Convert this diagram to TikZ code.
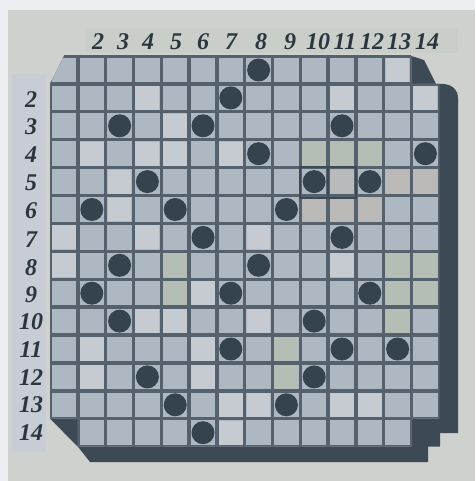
\documentclass[tikz,border=0pt]{standalone}
\usepackage{fontspec}
\newfontfamily\labfont{Liberation Serif}
\usetikzlibrary{calc}
\definecolor{bgc}{HTML}{ECEEF2}
\definecolor{panel}{HTML}{CED1CE}
\definecolor{colstrip}{HTML}{C9CEC8}
\definecolor{rowstrip}{HTML}{C8CCD4}
\definecolor{shadowc}{HTML}{3D4A55}
\definecolor{cellc}{HTML}{AEB8C3}
\definecolor{lightc}{HTML}{C6CBD2}
\definecolor{greenc}{HTML}{B5BEB5}
\definecolor{brownc}{HTML}{BBB9B8}
\definecolor{greyc}{HTML}{B9BABC}
\definecolor{linec}{HTML}{55616D}
\definecolor{dotc}{HTML}{34434E}
\definecolor{labc}{HTML}{2B3640}
\begin{document}
\begin{tikzpicture}[x=1pt,y=-1pt,
  dot/.style={circle,fill=dotc,minimum size=23pt,inner sep=0pt},
  lab/.style={font=\labfont\bfseries\itshape\fontsize{24}{24}\selectfont,text=labc,inner sep=0pt},
  gline/.style={linec,line width=3.4pt},
  boxline/.style={shadowc,line width=1.6pt}]
\useasboundingbox (0,0) rectangle (475,481);
% background and panel
\fill[bgc] (0,0) rectangle (475,481);
\fill[panel] (8,10) rectangle (475,481);
\fill[colstrip] (85,28) rectangle (458,53);
\fill[rowstrip] (12,74) rectangle (46,452);
% shadow under the board
\fill[shadowc] (64,56) -- (411.4,56) -- (424,60) -- (436,83.9) -- (442,83.9)
  .. controls (452,84) and (458,90) .. (458,98) -- (458,433) -- (440,433)
  -- (440,446.6) -- (428,446.6) -- (428,462) -- (90,462) -- (77.8,446.6)
  -- (50,418.7) -- (50,84) -- cycle;
% board
\begin{scope}
\clip (64,56) -- (411.4,56) -- (411.4,83.9) -- (439.2,83.9) -- (439.2,418.7)
  -- (411.4,418.7) -- (411.4,446.6) -- (77.8,446.6) -- (77.8,418.7) -- (50,418.7)
  -- (50,84) -- cycle;
\fill[cellc] (40,50) rectangle (450,450);
\foreach \c/\r in {13/1,4/2,11/2,14/2,5/3,2/4,4/4,5/4,7/4,3/5,3/6,1/7,4/7,8/7,1/8,11/8,
  6/9,4/10,5/10,8/10,2/11,6/11,2/12,6/12,7/13,8/13,11/13,12/13,7/14}
  \fill[lightc] ({50+(\c-1)*27.8+2},{56+(\r-1)*27.9+2}) rectangle ++(23.8,23.9);
\foreach \c/\r in {10/4,11/4,12/4,5/8,5/9,13/8,14/8,13/9,14/9,13/10,9/11,9/12}
  \fill[greenc] ({50+(\c-1)*27.8+2},{56+(\r-1)*27.9+2}) rectangle ++(23.8,23.9);
\foreach \c/\r in {13/5,14/5,10/6,11/6,12/6}
  \fill[brownc] ({50+(\c-1)*27.8+2},{56+(\r-1)*27.9+2}) rectangle ++(23.8,23.9);
\fill[greyc] ({50+10*27.8+2},{56+4*27.9+2}) rectangle ++(23.8,23.9);
\foreach \k in {0,...,14} {
  \draw[gline] ({50+\k*27.8},50) -- ({50+\k*27.8},450);
  \draw[gline] (45,{56+\k*27.9}) -- (445,{56+\k*27.9});
}
\end{scope}
\draw[linec,line width=2pt] (64,56) -- (411.4,56);
% highlighted pair of cells
\draw[boxline] (300,167) rectangle (356,198);
\draw[boxline] (328,167) -- (328,198);
% pieces
\foreach \c/\r in {8/1,7/2,3/3,6/3,11/3,8/4,14/4,4/5,10/5,12/5,2/6,5/6,9/6,6/7,11/7,
  3/8,8/8,2/9,7/9,12/9,3/10,10/10,7/11,11/11,13/11,4/12,10/12,5/13,9/13,6/14}
  \node[dot] (d-\c-\r) at ({64+(\c-1)*27.8},{70+(\r-1)*27.9}) {};
% column labels
\foreach \t/\x in {2/98,3/123,4/148,5/176,6/203,7/231,8/261,9/290,10/318,11/345,12/372,13/399,14/427}
  \node[lab] (c-\t) at (\x,42) {\t};
% row labels
\foreach \t/\y in {2/100,3/127,4/155,5/183,6/211,7/240,8/268,9/295,10/322,11/350,12/378,13/405,14/433}
  \node[lab] (r-\t) at (31,\y) {\t};
\end{tikzpicture}
\end{document}
